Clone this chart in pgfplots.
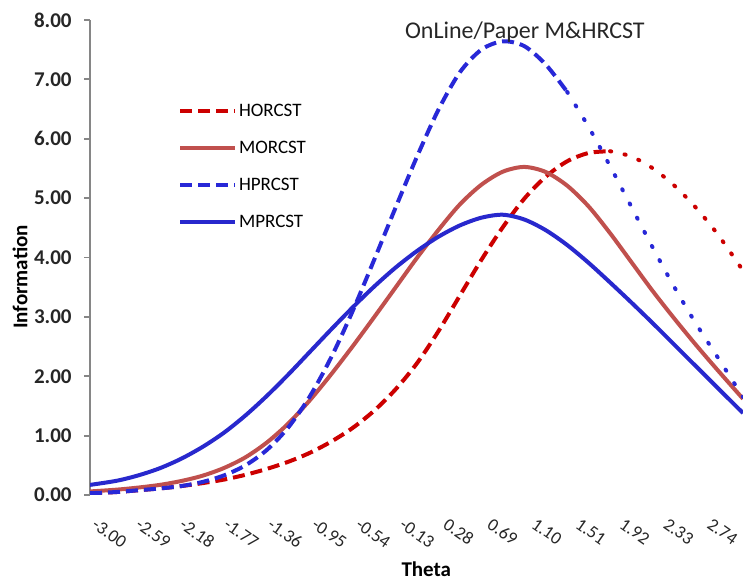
\documentclass[border=0pt]{standalone}
\usepackage{fontspec}
\setmainfont{Carlito}
\usepackage{pgfplots}
\pgfplotsset{compat=1.18}
\usepackage{pgfplotstable}

\definecolor{hor}{RGB}{204,0,0}
\definecolor{mor}{RGB}{192,80,77}
\definecolor{hpr}{RGB}{40,40,215}
\definecolor{mpr}{RGB}{40,40,205}
\definecolor{axgray}{RGB}{134,134,134}

\pgfplotstableread{
theta HOR MOR HPR MPR
-3.05 0.03 0.06 0.03 0.17
-2.8 0.05 0.09 0.05 0.24
-2.6 0.08 0.125 0.08 0.33
-2.4 0.11 0.17 0.11 0.45
-2.2 0.15 0.235 0.15 0.61
-2.0 0.20 0.325 0.22 0.81
-1.8 0.26 0.455 0.33 1.05
-1.6 0.34 0.635 0.50 1.34
-1.4 0.44 0.885 0.76 1.67
-1.2 0.56 1.205 1.14 2.03
-1.0 0.71 1.595 1.66 2.41
-0.8 0.90 2.035 2.32 2.79
-0.6 1.13 2.505 3.10 3.16
-0.4 1.42 2.995 3.96 3.51
-0.2 1.78 3.495 4.84 3.83
0.0 2.22 3.995 5.70 4.11
0.2 2.76 4.465 6.49 4.35
0.4 3.36 4.895 7.12 4.54
0.6 3.96 5.225 7.50 4.67
0.8 4.51 5.445 7.64 4.72
1.0 4.99 5.525 7.56 4.64
1.2 5.36 5.44 7.25 4.46
1.4 5.62 5.21 6.79 4.21
1.6 5.76 4.86 6.20 3.91
1.8 5.79 4.41 5.54 3.58
2.0 5.70 3.92 4.85 3.24
2.2 5.50 3.43 4.16 2.89
2.4 5.21 2.97 3.50 2.53
2.6 4.84 2.53 2.89 2.17
2.8 4.40 2.11 2.33 1.81
3.04 3.78 1.62 1.65 1.38
}\infodata

\begin{document}
\begin{tikzpicture}
\useasboundingbox (0,0) rectangle (371.5pt,290.5pt);
\begin{axis}[
  at={(45pt,43pt)}, anchor=south west,
  scale only axis, width=326.5pt, height=237.5pt,
  xmin=-3.05, xmax=3.04, ymin=0, ymax=8,
  axis lines*=left,
  x axis line style={draw=none},
  y axis line style={axgray, line width=0.9pt},
  xtick={-3.00,-2.59,-2.18,-1.77,-1.36,-0.95,-0.54,-0.13,0.28,0.69,1.10,1.51,1.92,2.33,2.74},
  xticklabels={-3.00,-2.59,-2.18,-1.77,-1.36,-0.95,-0.54,-0.13,0.28,0.69,1.10,1.51,1.92,2.33,2.74},
  ytick={0,1,2,3,4,5,6,7,8},
  yticklabels={0.00,1.00,2.00,3.00,4.00,5.00,6.00,7.00,8.00},
  tick align=outside,
  x tick style={draw=none},
  y tick style={axgray, line width=0.9pt},
  major tick length=3pt,
  xticklabel style={xshift=1pt, yshift=-8pt, rotate=-35, anchor=north west, inner sep=0pt, font=\fontsize{9}{10.5}\selectfont, text=black!85},
  yticklabel style={font=\bfseries\fontsize{10.5}{12}\selectfont, text=black!85, anchor=east, inner sep=0pt, xshift=-6pt},
  xlabel={Theta}, ylabel={Information},
  xlabel style={font=\bfseries\fontsize{10.5}{12}\selectfont, at={(axis description cs:0.515,-0.157)}, anchor=center},
  ylabel style={font=\bfseries\fontsize{10.5}{12}\selectfont, at={(axis description cs:-0.107,0.459)}, anchor=center, rotate=0},
  legend style={draw=none, fill=none, at={(axis description cs:0.125,0.84)}, anchor=north west,
    font=\fontsize{9.5}{11}\selectfont, row sep=7.5pt, column sep=0pt,
    nodes={inner sep=1pt, text height=7pt, text depth=2pt}},
  legend cell align=left,
  legend image code/.code={\draw[#1] (0pt,0pt) -- (27.5pt,0pt);},
  clip=true,
]
\draw[axgray, line width=3pt] ([yshift=-2pt]rel axis cs:0,0) -- ([yshift=-2pt]rel axis cs:1,0);

\addplot[hor, line width=2pt, dash pattern=on 6pt off 3pt, smooth, restrict x to domain=-4:1.8] table[x=theta, y=HOR] {\infodata};
\addlegendentry{HORCST}
\addplot[mor, line width=2pt, smooth] table[x=theta, y=MOR] {\infodata};
\addlegendentry{MORCST}
\addplot[hpr, line width=2pt, dash pattern=on 6pt off 3pt, smooth, restrict x to domain=-4:1.4] table[x=theta, y=HPR] {\infodata};
\addlegendentry{HPRCST}
\addplot[mpr, line width=2pt, smooth] table[x=theta, y=MPR] {\infodata};
\addlegendentry{MPRCST}

\addplot[hor, line width=2pt, line cap=round, dash pattern=on 0.6pt off 6.8pt, smooth, restrict x to domain=1.8:4, forget plot] table[x=theta, y=HOR] {\infodata};
\addplot[hpr, line width=2pt, line cap=round, dash pattern=on 0.6pt off 7.4pt, smooth, restrict x to domain=1.4:4, forget plot] table[x=theta, y=HPR] {\infodata};

\node[font=\fontsize{12}{14}\selectfont, text=black!85] at (axis description cs:0.666,0.975) {OnLine/Paper M\&HRCST};
\end{axis}
\end{tikzpicture}
\end{document}
